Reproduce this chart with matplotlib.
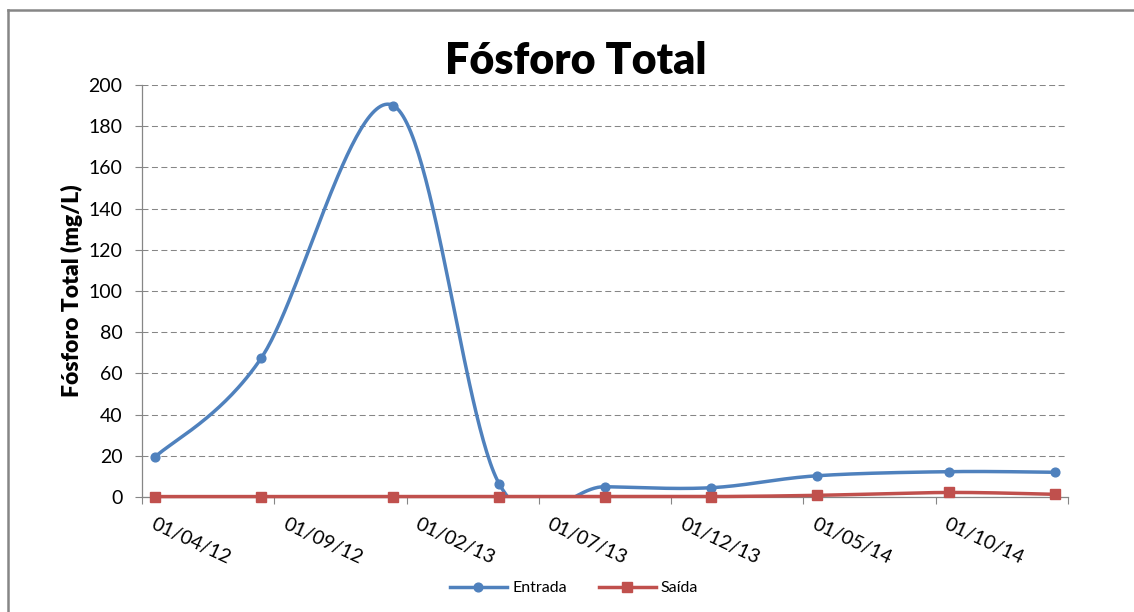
import numpy as np
import matplotlib
matplotlib.use("Agg")
import matplotlib.pyplot as plt
from matplotlib.lines import Line2D

plt.rcParams['font.family'] = ['Lato', 'DejaVu Sans']
plt.rcParams['lines.scale_dashes'] = False

# ---- data ----
dates = ['01/04/12', '01/08/12', '01/01/13', '01/05/13', '01/09/13',
         '01/01/14', '01/05/14', '01/10/14', '01/02/15']
entrada = [19.5, 67.3, 190.0, 6.4, 5.0, 4.5, 10.3, 12.3, 12.0]
saida = [0.2, 0.2, 0.2, 0.2, 0.2, 0.2, 0.8, 2.2, 1.3]
tick_labels = ['01/04/12', '01/09/12', '01/02/13', '01/07/13',
               '01/12/13', '01/05/14', '01/10/14']
yticks = list(range(0, 201, 20))

blue = '#4F81BD'
red = '#C0504D'
gray = '#868686'


def month_index(s, base=(2012, 4)):
    d, m, y = s.split('/')
    return (2000 + int(y) - base[0]) * 12 + int(m) - base[1]


x = np.array([month_index(d) for d in dates], dtype=float)
xlab = np.array([month_index(d) for d in tick_labels], dtype=float)


def excel_smooth(xs, ys, n=60):
    P = np.column_stack([xs, ys])
    out = []
    for i in range(len(P) - 1):
        p0 = P[i - 1] if i > 0 else P[i]
        p1 = P[i]
        p2 = P[i + 1]
        p3 = P[i + 2] if i + 2 < len(P) else P[i + 1]
        c1 = p1 + (p2 - p0) / 6.0
        c2 = p2 - (p3 - p1) / 6.0
        t = np.linspace(0, 1, n)[:, None]
        seg = ((1 - t) ** 3) * p1 + 3 * ((1 - t) ** 2) * t * c1 + 3 * (1 - t) * t ** 2 * c2 + t ** 3 * p2
        out.append(seg if i == 0 else seg[1:])
    s = np.vstack(out)
    return s[:, 0], s[:, 1]


fig = plt.figure(figsize=(11.34, 6.12), dpi=100)
ax = fig.add_axes([142 / 1134, 1 - 497 / 612, (1068 - 142) / 1134, (497 - 85) / 612])

ax.set_xlim(-0.5, 34.5)
ax.set_ylim(0, 200)

# gridlines
ax.set_yticks(yticks)
ax.yaxis.grid(True, color=gray, linestyle=(0, (4.3, 2.5)), linewidth=0.75)
ax.set_axisbelow(True)

sx, sy = excel_smooth(x, entrada)
ax.plot(sx, sy, color=blue, lw=2.5, solid_capstyle='round', zorder=3)
ax.plot(x, entrada, 'o', color=blue, ms=6.3, zorder=4, clip_on=False)
rx, ry = excel_smooth(x, saida)
ax.plot(rx, ry, color=red, lw=2.5, zorder=5, clip_on=False)
ax.plot(x, saida, 's', color=red, ms=6.5, zorder=6, clip_on=False)

for sp in ['top', 'right']:
    ax.spines[sp].set_visible(False)
for sp in ['left', 'bottom']:
    ax.spines[sp].set_color(gray)
    ax.spines[sp].set_linewidth(0.9)

ax.tick_params(axis='y', direction='out', length=5, width=0.8, color=gray,
               labelsize=14, labelcolor='black', pad=9)

# x major ticks at month-slot boundaries
ax.set_xticks(np.arange(-0.5, 35, 5))
ax.set_xticklabels([])
ax.tick_params(axis='x', which='major', direction='out', length=5, width=0.8, color=gray)
ax.set_xticks(xlab, minor=True)
ax.set_xticklabels(tick_labels, minor=True)
ax.tick_params(axis='x', which='minor', length=0, labelsize=14, labelcolor='black', pad=13)
for lbl in ax.get_xticklabels(minor=True):
    lbl.set_rotation(-25)
    lbl.set_ha('left')
    lbl.set_va('top')
    lbl.set_rotation_mode('anchor')

ax.set_ylabel('Fósforo Total (mg/L)', fontsize=16.5, fontweight='heavy')
ax.yaxis.set_label_coords((83 - 142) / (1068 - 142), 0.5)

fig.text(575.5 / 1134, 1 - 74 / 612, 'Fósforo Total', fontsize=31, fontweight='heavy',
         ha='center', va='baseline')

handles = [Line2D([], [], color=blue, lw=2.5, marker='o', ms=6.3),
           Line2D([], [], color=red, lw=2.5, marker='s', ms=6.5)]
fig.legend(handles, ['Entrada', 'Saída'], loc='center', bbox_to_anchor=(574 / 1134, 1 - 588 / 612),
           ncol=2, frameon=False, fontsize=11.5, handlelength=3.6, columnspacing=2.0, handletextpad=0.3)

# chart border (partially visible)
fig.add_artist(Line2D([8 / 1134, 1.0], [1 - 10 / 612, 1 - 10 / 612], color=gray, lw=1.8,
                      transform=fig.transFigure))
fig.add_artist(Line2D([8 / 1134, 8 / 1134], [1 - 10 / 612, 0.0], color=gray, lw=1.8,
                      transform=fig.transFigure))

fig.savefig('out.png', dpi=100)
